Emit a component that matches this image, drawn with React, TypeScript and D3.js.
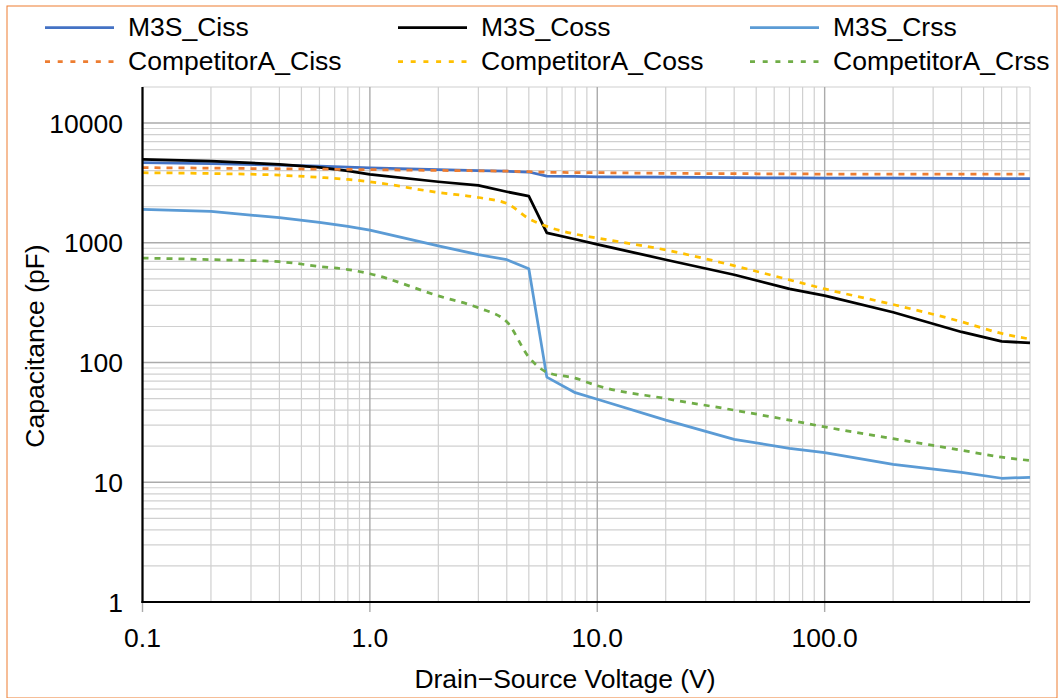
import React, { useEffect, useRef } from 'react';
import * as d3 from 'd3';

// drain-source voltage points (V), shared by every series
const volts = [0.1, 0.2, 0.4, 0.6, 0.8, 1, 2, 3, 4, 5, 6, 8, 10, 20, 40, 70, 100, 200, 400, 600, 800];

// capacitance (pF)
const m3sCiss = [4670, 4580, 4450, 4360, 4290, 4230, 4080, 4010, 3960, 3900, 3600, 3580, 3560, 3530, 3500, 3480, 3470, 3460, 3450, 3440, 3440];
const m3sCoss = [4975, 4810, 4520, 4265, 3980, 3725, 3234, 3011, 2667, 2450, 1208, 1070, 970, 722, 541, 412, 362, 263, 180, 150, 146];
const m3sCrss = [1905, 1830, 1620, 1480, 1370, 1277, 942, 795, 722, 607, 75.5, 56, 49.3, 33, 22.8, 19.2, 17.7, 14.1, 12.1, 10.8, 11];
const compCiss = [4240, 4200, 4150, 4120, 4100, 4080, 4020, 3990, 3960, 3920, 3880, 3860, 3850, 3800, 3780, 3760, 3750, 3745, 3740, 3740, 3740];
const compCoss = [3845, 3790, 3670, 3515, 3380, 3235, 2630, 2388, 2130, 1592, 1371, 1181, 1096, 871, 643, 490, 412, 305, 219, 175, 157];
const compCrss = [746, 723, 695, 634, 598, 551, 360, 286, 219, 111, 83, 74, 64, 50, 40, 33, 29, 23.1, 18.5, 16.2, 15.2];

const seriesNames = ['M3S_Ciss', 'M3S_Coss', 'M3S_Crss', 'CompetitorA_Ciss', 'CompetitorA_Coss', 'CompetitorA_Crss'];
const seriesValues = [m3sCiss, m3sCoss, m3sCrss, compCiss, compCoss, compCrss];
const seriesColors = ['#4472c4', '#000000', '#5b9bd5', '#ed7d31', '#ffc000', '#70ad47'];
const seriesDashed = [false, false, false, true, true, true];

const xTicks = [0.1, 1, 10, 100];
const yTicks = [1, 10, 100, 1000, 10000];

const W = 1060;
const H = 698;
const FONT = "'Liberation Sans', Arial, sans-serif";
const FS = '26.5px';

export default function App() {
  const ref = useRef<SVGSVGElement>(null);

  useEffect(() => {
    const svg = d3.select(ref.current);
    svg.selectAll('*').remove();

    const margin = { top: 87, right: 30, bottom: 96, left: 142.5 };
    const x = d3.scaleLog().domain([0.1, 800]).range([margin.left, W - margin.right]);
    const y = d3.scaleLog().domain([1, 20000]).range([H - margin.bottom, margin.top]);
    const [x0, x1] = x.range();
    const [y0, y1] = y.range();

    // frame
    svg.append('rect')
      .attr('x', 7).attr('y', 6)
      .attr('width', W - 10).attr('height', H - 6)
      .attr('fill', 'white')
      .attr('stroke', '#ed7d31')
      .attr('stroke-width', 1);

    // grid: minor first, majors on top
    const xMinor: number[] = [];
    for (let e = -1; e <= 2; e++) {
      for (let m = 2; m <= 9; m++) {
        const v = m * Math.pow(10, e);
        if (v <= 800) xMinor.push(v);
      }
    }
    const yMinor: number[] = [];
    for (let e = 0; e <= 4; e++) {
      for (let m = 2; m <= 9; m++) {
        const v = m * Math.pow(10, e);
        if (v <= 20000) yMinor.push(v);
      }
    }

    const grid = svg.append('g');
    grid.selectAll('.xm').data(xMinor).join('line')
      .attr('x1', (d) => x(d)).attr('x2', (d) => x(d))
      .attr('y1', y0).attr('y2', y1)
      .attr('stroke', '#d0d0d0').attr('stroke-width', 1.2);
    grid.selectAll('.ym').data(yMinor).join('line')
      .attr('x1', x0).attr('x2', x1)
      .attr('y1', (d) => y(d)).attr('y2', (d) => y(d))
      .attr('stroke', '#d0d0d0').attr('stroke-width', 1.2);
    grid.selectAll('.xM').data(xTicks).join('line')
      .attr('x1', (d) => x(d)).attr('x2', (d) => x(d))
      .attr('y1', y0 + 10).attr('y2', y1)
      .attr('stroke', '#ababab').attr('stroke-width', 1.4);
    grid.selectAll('.yM').data(yTicks).join('line')
      .attr('x1', x0).attr('x2', x1)
      .attr('y1', (d) => y(d)).attr('y2', (d) => y(d))
      .attr('stroke', '#ababab').attr('stroke-width', 1.4);

    // tick labels
    svg.append('g').selectAll('text').data(yTicks).join('text')
      .attr('x', 123).attr('y', (d) => y(d))
      .attr('dy', '0.36em')
      .attr('text-anchor', 'end')
      .style('font-family', FONT).style('font-size', FS)
      .text((d) => d3.format('d')(d));

    svg.append('g').selectAll('text').data(xTicks).join('text')
      .attr('x', (d) => x(d)).attr('y', 647)
      .attr('text-anchor', 'middle')
      .style('font-family', FONT).style('font-size', FS)
      .text((d) => d3.format('.1f')(d));

    // series
    const pts = volts.map((v, i) => i);
    seriesValues.forEach((vals, s) => {
      const line = d3.line<number>()
        .x((i) => x(volts[i]))
        .y((i) => y(vals[i]))
        .curve(seriesDashed[s] ? d3.curveMonotoneX : d3.curveLinear);
      svg.append('path')
        .datum(pts)
        .attr('d', line)
        .attr('fill', 'none')
        .attr('stroke', seriesColors[s])
        .attr('stroke-width', 2.75)
        .attr('stroke-dasharray', seriesDashed[s] ? '6 6' : null)
        .attr('stroke-linejoin', 'round');
    });

    // axis lines
    svg.append('line')
      .attr('x1', x0).attr('x2', x0).attr('y1', y0 + 1).attr('y2', y1)
      .attr('stroke', '#000').attr('stroke-width', 2.2);
    svg.append('line')
      .attr('x1', x0 - 1).attr('x2', x1).attr('y1', y0).attr('y2', y0)
      .attr('stroke', '#000').attr('stroke-width', 2.2);

    // axis titles
    svg.append('text')
      .attr('x', 565).attr('y', 688)
      .attr('text-anchor', 'middle')
      .style('font-family', FONT).style('font-size', FS)
      .text('Drain\u2212Source Voltage (V)');

    svg.append('text')
      .attr('transform', 'translate(44,346) rotate(-90)')
      .attr('text-anchor', 'middle')
      .style('font-family', FONT).style('font-size', FS)
      .text('Capacitance (pF)');

    // legend: 3 columns x 2 rows
    const colX = [45, 398, 750];
    const rowY = [27.5, 61.5];
    seriesNames.forEach((name, s) => {
      const cx = colX[s % 3];
      const cy = rowY[Math.floor(s / 3)];
      svg.append('line')
        .attr('x1', cx).attr('x2', cx + 69)
        .attr('y1', cy).attr('y2', cy)
        .attr('stroke', seriesColors[s])
        .attr('stroke-width', 2.75)
        .attr('stroke-dasharray', seriesDashed[s] ? '5 7.7' : null);
      svg.append('text')
        .attr('x', cx + 83).attr('y', cy + 8)
        .style('font-family', FONT).style('font-size', FS)
        .text(name);
    });
  }, []);

  return (
    <svg ref={ref} width={W} height={H}
      style={{ position: 'absolute', left: 0, top: 0, background: 'white' }} />
  );
}
